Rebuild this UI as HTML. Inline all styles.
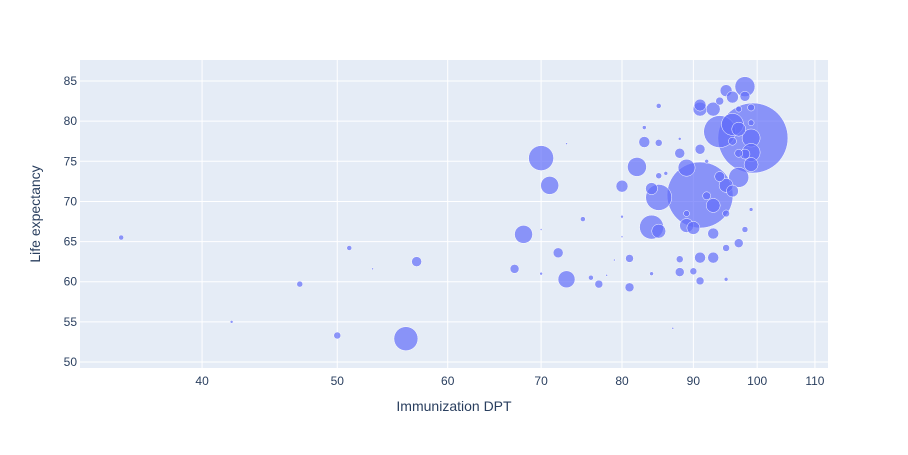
<!DOCTYPE html>
<html><head><meta charset="utf-8"><style>
body{margin:0;background:#fff;font-family:"Liberation Sans",sans-serif;}
svg text{font-family:"Liberation Sans",sans-serif;fill:#2a3f5f;}
</style></head><body>
<svg id="chart" width="908" height="450">
<rect x="80" y="60" width="748" height="308" fill="#e5ecf6"/>
<g id="grid"></g><g id="marks"></g><g id="axes"></g>
<text x="454" y="411" text-anchor="middle" font-size="14">Immunization DPT</text>
<text x="40" y="214" text-anchor="middle" font-size="14" transform="rotate(-90 40 214)">Life expectancy</text>
</svg>
<script>
const dpt=[35,42,47,50,51,53,56,57,67,68,70,70,70,71,72,73,73,75,76,77,78,79,80,80,80,81,81,82,83,83,84,84,84,85,85,85,85,85,86,87,88,88,88,88,89,89,89,90,90,91,91,91,91,91,91,92,92,93,93,93,93,94,94,94,95,95,95,95,95,96,96,96,97,97,97,97,98,99.3,98,98,98,99,99,99,99,99,99,96,97];
const life=[65.5,55,59.7,53.3,64.2,61.6,52.9,62.5,61.6,65.9,75.4,66.5,61,72,63.6,60.3,77.2,67.8,60.5,59.7,60.8,62.7,71.9,68.1,65.6,62.9,59.3,74.3,77.4,79.2,71.6,66.8,61,70.5,66.3,81.9,77.3,73.2,73.5,54.2,76,62.8,61.2,77.8,68.5,67,74.2,66.7,61.3,70.8,63,60.1,76.5,81.5,82,70.7,75,69.5,66,63,81.5,78.7,73.1,82.5,72,64.2,60.3,68.5,83.8,79.6,71.3,83,73,64.8,76,79,84.3,77.9,75.9,83.1,66.5,77.9,76.1,74.6,81.7,69,79.8,77.5,81.5];
const sizes=[2.5,1.5,3,3.5,2.5,1,12,5,4.5,9,12.5,1,1.5,9,5,8.5,1,2.5,2.5,4,1,1,6,1.5,1,4,4.5,9.5,5.5,2,6,12,2,13,7,2.5,3.5,3,2,1,5,3.5,4.5,1.5,3,7,8.5,6.5,3.5,33,5.5,4,5,7,6,4,2,7,5.5,5.5,7,16,5,4,7,3.5,2,3.5,6,11,6,6,10,4.5,4,7,10,35,5,5,3,9,9,7,3.5,2,3,4,3];
const xTicks=[40,50,60,70,80,90,100,110];
const yTicks=[50,55,60,65,70,75,80,85];
const L=80,R=828,T=60,B=368,xmin=Math.log10(32.7),xmax=Math.log10(112.4),ymin=49.25,ymax=87.62;
const sx=v=>L+(Math.log10(v)-xmin)/(xmax-xmin)*(R-L);
const sy=v=>B-(v-ymin)/(ymax-ymin)*(B-T);
const NS="http://www.w3.org/2000/svg";
function mk(tag,attrs,parent){const e=document.createElementNS(NS,tag);for(const k in attrs)e.setAttribute(k,attrs[k]);parent.appendChild(e);return e;}
const grid=document.getElementById('grid'),axes=document.getElementById('axes'),marks=document.getElementById('marks');
xTicks.forEach(t=>{const x=sx(t);
const g=mk('line',{x1:x,x2:x,y1:T,y2:B,stroke:'#fff','stroke-width':1},grid);


const tx=mk('text',{x:x,y:B+17,'text-anchor':'middle','font-size':12},axes);tx.textContent=t;

});
yTicks.forEach(t=>{const y=sy(t);
const g=mk('line',{x1:L,x2:R,y1:y,y2:y,stroke:'#fff','stroke-width':1},grid);


const tx=mk('text',{x:L-3,y:y+4,'text-anchor':'end','font-size':12},axes);tx.textContent=t;

});
const order=sizes.map((s,i)=>i).sort((a,b)=>sizes[b]-sizes[a]);
order.forEach(i=>{const c=mk('circle',{cx:sx(dpt[i]),cy:sy(life[i]),r:sizes[i],fill:'#636efa','fill-opacity':0.7,stroke:'#fff','stroke-width':0.5},marks);

});
</script>
</body></html>
